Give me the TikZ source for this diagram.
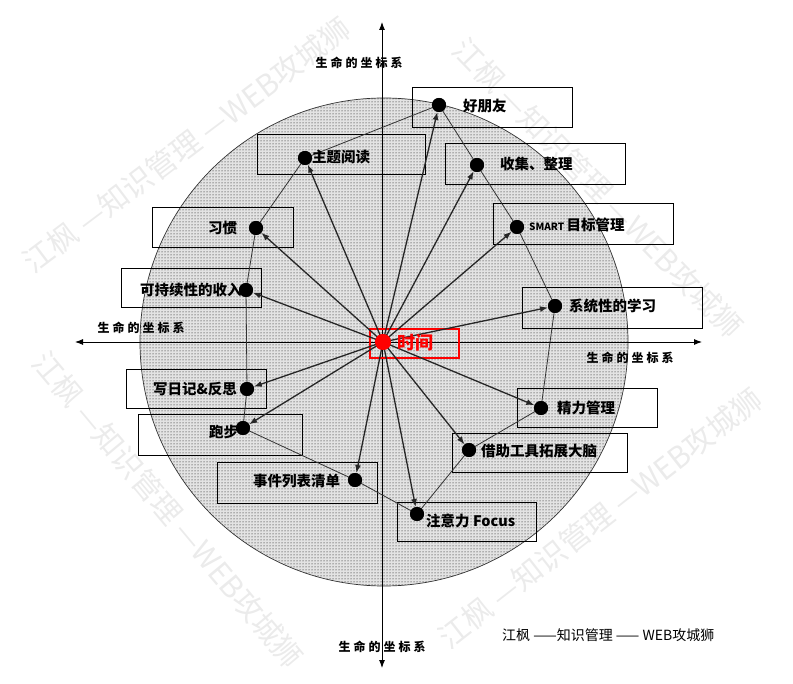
\documentclass[tikz,border=0pt]{standalone}
\usepackage{fontspec}
\newfontfamily\cjk{Noto Sans CJK SC}
\usetikzlibrary{arrows.meta,patterns}
\newcommand\mylifeaxis{生\hspace{3pt}命\hspace{3pt}的\hspace{3pt}坐\hspace{3pt}标\hspace{3pt}系}
\begin{document}
\begin{tikzpicture}[x=1pt,y=-1pt,
  dotn/.style={circle,fill=black,inner sep=0pt,minimum size=14pt},
  lbl/.style={anchor=west,inner sep=0pt,font=\cjk\bfseries\fontsize{14.5}{16}\selectfont},
  boxn/.style={draw=black,line width=0.8pt,inner sep=0pt,anchor=north west},
  axislab/.style={inner sep=0pt,font=\cjk\bfseries\fontsize{12}{13}\selectfont},
  axisline/.style={line width=0.9pt,{Latex[length=8pt,width=6pt]}-{Latex[length=8pt,width=6pt]}},
  ringline/.style={line width=0.8pt,black!80},
  arr/.style={line width=1.3pt,black!85,-{Latex[length=8pt,width=6pt]}},
  wm/.style={font=\cjk\fontsize{30}{32}\selectfont,text=black,opacity=0.08,inner sep=0pt}
]
\useasboundingbox (0,0) rectangle (793,684);
% circle
\fill[black!11] (384,342) circle[radius=244];
\draw[black!80,line width=0.7pt,pattern=dots,pattern color=black] (384,342) circle[radius=244];
% axes
\coordinate (xl) at (75,342);
\coordinate (xr) at (702,342);
\coordinate (yt) at (382,22);
\coordinate (yb) at (382,668);
\draw[axisline] (xl) -- (xr);
\draw[axisline] (yb) -- (yt);
\node[axislab] (lt) at (359,63) {\mylifeaxis};
\node[axislab] (ll) at (141,328) {\mylifeaxis};
\node[axislab] (lr) at (630,358) {\mylifeaxis};
\node[axislab] (lb) at (382,647) {\mylifeaxis};
% boxes
\node[boxn,minimum width=160pt,minimum height=40pt] (bfr) at (412,87) {};
\node[boxn,minimum width=180pt,minimum height=41pt] (bsj) at (445,143) {};
\node[boxn,minimum width=168pt,minimum height=40pt] (bzt) at (257,134) {};
\node[boxn,minimum width=180pt,minimum height=41pt] (bsm) at (493,203) {};
\node[boxn,minimum width=141pt,minimum height=40pt] (bxg) at (152,207) {};
\node[boxn,minimum width=140pt,minimum height=39pt] (bkc) at (121,268) {};
\node[boxn,minimum width=180pt,minimum height=41pt] (bxt) at (522,287) {};
\node[boxn,minimum width=140pt,minimum height=39pt] (bxr) at (126,369) {};
\node[boxn,minimum width=164pt,minimum height=41pt] (bpb) at (138,414) {};
\node[boxn,minimum width=140pt,minimum height=39pt] (bjl) at (517,388) {};
\node[boxn,minimum width=175pt,minimum height=39pt] (bjz) at (452,433) {};
\node[boxn,minimum width=160pt,minimum height=41pt] (bsx) at (217,462) {};
\node[boxn,minimum width=139pt,minimum height=39pt] (bzy) at (397,502) {};
\node[draw=red,line width=1.6pt,inner sep=0pt,anchor=north west,minimum width=89pt,minimum height=29pt] (bt) at (369,328) {};
% dots
\node[circle,fill=red,inner sep=0pt,minimum size=16pt] (t) at (383,342) {};
\node[dotn] (fr) at (439,105) {};
\node[dotn] (sj) at (477,165) {};
\node[dotn] (zt) at (305,158) {};
\node[dotn] (sm) at (517,227) {};
\node[dotn] (xg) at (256,228) {};
\node[dotn] (kc) at (246,290) {};
\node[dotn] (xt) at (555,306) {};
\node[dotn] (xr) at (247,389) {};
\node[dotn] (pb) at (243,428) {};
\node[dotn] (jl) at (541,408) {};
\node[dotn] (jz) at (469,450) {};
\node[dotn] (sx) at (355,480) {};
\node[dotn] (zy) at (417,514) {};
% ring line
\draw[ringline] (fr.center) -- (zt.center) -- (xg.center) -- (kc.center) -- (xr.center) -- (pb.center) -- (sx.center) -- (zy.center) -- (jz.center) -- (jl.center) -- (xt.center) -- (sm.center) -- (sj.center) -- cycle;
% arrows
\foreach \d in {fr,sj,zt,sm,xg,kc,xt,xr,pb,jl,jz,sx,zy}{
  \draw[arr] (t.center) -- (\d);
}
% redraw dots on top
\foreach \d in {fr,sj,zt,sm,xg,kc,xt,xr,pb,jl,jz,sx,zy}{
  \fill (\d.center) circle[radius=7];
}
\fill[red] (t.center) circle[radius=8];
% labels
\node[lbl] (tfr) at (463,106) {好朋友};
\node[lbl] (tsj) at (500,164) {收集、整理};
\node[lbl] (tzt) at (312,157) {主题阅读};
\node[lbl] (tsm) at (529,225) {{\fontsize{10}{11}\selectfont SMART}\,目标管理};
\node[lbl] (txg) at (208,228) {习惯};
\node[lbl] (tkc) at (140,290) {可持续性的收入};
\node[lbl] (txt) at (569,306) {系统性的学习};
\node[lbl] (txr) at (153,389) {写日记\&反思};
\node[lbl] (tpb) at (209,432) {跑步};
\node[lbl] (tjl) at (557,408) {精力管理};
\node[lbl] (tjz) at (481,451) {借助工具拓展大脑};
\node[lbl] (tsx) at (253,481) {事件列表清单};
\node[lbl] (tzy) at (426,521) {注意力 Focus};
\node[lbl,text=red,font=\cjk\bfseries\fontsize{18}{20}\selectfont] (tt) at (397,343) {时间};
% credit
\node[anchor=west,inner sep=0pt,font=\cjk\fontsize{14}{16}\selectfont] (credit) at (502,635) {江枫 ——知识管理 —— WEB攻城狮};
% watermarks
\node[wm,rotate=37] (wm1) at (187,145) {江枫 —知识管理 —WEB攻城狮};
\node[wm,rotate=-46] (wm2) at (598,188) {江枫 —知识管理 —WEB攻城狮};
\node[wm,rotate=-50] (wm3) at (168,510) {江枫 —知识管理 —WEB攻城狮};
\node[wm,rotate=38] (wm4) at (600,518) {江枫 —知识管理 —WEB攻城狮};
\end{tikzpicture}
\end{document}
